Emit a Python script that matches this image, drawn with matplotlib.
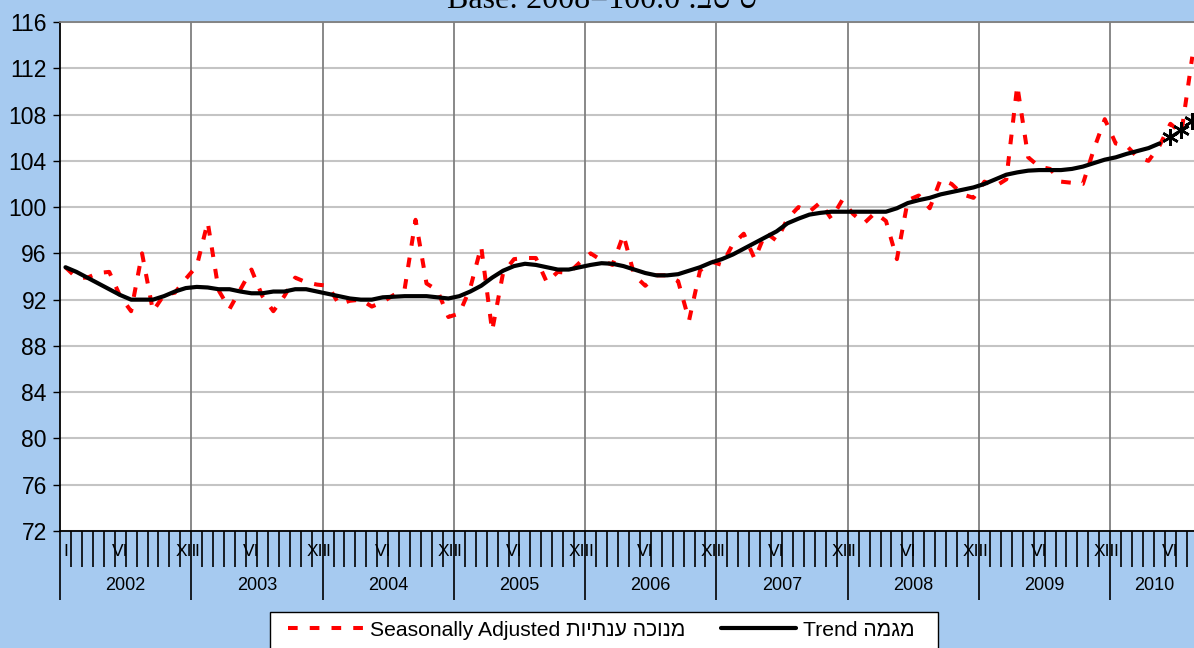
import numpy as np
import matplotlib
matplotlib.use("Agg")
import matplotlib.pyplot as plt
from matplotlib.patches import Rectangle
from matplotlib.transforms import blended_transform_factory

# monthly values, Jan 2002 .. Aug 2010
years = ["2002", "2003", "2004", "2005", "2006", "2007", "2008", "2009", "2010"]
month_marks = {0: "I", 5: "VI", 11: "XII"}

seas_adj = [
    94.8, 93.9, 93.9, 94.3, 94.4, 92.3, 91.0, 96.0, 91.0, 92.4, 92.6, 93.8,   # 2002
    94.9, 98.7, 92.8, 91.2, 92.9, 94.6, 92.3, 91.0, 92.3, 93.9, 93.5, 93.3,   # 2003
    93.2, 91.6, 91.9, 92.0, 91.4, 91.8, 92.4, 92.9, 98.9, 93.4, 92.8, 90.5,   # 2004
    90.8, 93.0, 96.6, 89.3, 94.3, 95.5, 95.6, 95.6, 93.5, 94.4, 94.3, 95.2,   # 2005
    96.0, 95.4, 95.0, 97.6, 94.1, 93.2, 94.1, 94.1, 93.6, 90.2, 94.5, 95.3,   # 2006
    95.0, 96.8, 97.7, 95.5, 97.8, 97.1, 99.0, 100.0, 99.6, 100.4, 99.0, 100.6,  # 2007
    99.4, 98.6, 99.5, 98.8, 95.5, 100.6, 101.0, 99.9, 102.4, 102.0, 101.1, 100.8,  # 2008
    102.2, 101.8, 102.4, 110.5, 104.3, 103.5, 103.3, 102.2, 102.1, 102.0, 105.0, 107.6,  # 2009
    105.5, 105.3, 104.3, 104.0, 105.3, 107.2, 106.4, 113.0,   # 2010
]

trend = [
    94.8, 94.4, 93.9, 93.4, 92.9, 92.4, 92.0, 92.0, 92.0, 92.3, 92.7, 93.0,
    93.1, 93.05, 92.9, 92.9, 92.7, 92.55, 92.55, 92.7, 92.7, 92.9, 92.9, 92.7,
    92.5, 92.3, 92.1, 92.0, 92.0, 92.2, 92.25, 92.3, 92.3, 92.3, 92.2, 92.1,
    92.3, 92.7, 93.2, 93.9, 94.5, 94.9, 95.1, 95.0, 94.8, 94.6, 94.6, 94.8,
    95.0, 95.15, 95.1, 94.9, 94.6, 94.3, 94.1, 94.1, 94.2, 94.5, 94.8, 95.2,
    95.5, 95.9, 96.4, 96.9, 97.4, 97.9, 98.6, 99.0, 99.35, 99.5, 99.6, 99.6,
    99.6, 99.6, 99.6, 99.6, 99.9, 100.35, 100.6, 100.8, 101.1, 101.3, 101.5, 101.7,
    102.0, 102.4, 102.8, 103.0, 103.15, 103.2, 103.2, 103.2, 103.3, 103.5, 103.8, 104.1,
    104.3, 104.6, 104.85, 105.1, 105.5,
]

# trend estimate for the last months (star markers)
trend_est_idx = [101, 102, 103]
trend_est = [106.1, 106.7, 107.4]

# the reference shows the hebrew glyphs left to right, the renderer applies
# bidi, so the hebrew runs are handed over reversed
label_sa = "Seasonally Adjusted " + "מנוכה ענתיות"[::-1]
label_tr = "Trend " + "מגמה"[::-1]
title = "Base: 2008=100.0 :בסיס"

bg = "#a6caf0"
sans = ["Liberation Sans", "DejaVu Sans"]
plt.rcParams["font.family"] = sans

W, H = 1194, 648
fig = plt.figure(figsize=(W / 100, H / 100), dpi=100, facecolor=bg)

n_months = len(seas_adj)
x_sa = np.arange(n_months) + 0.5
x_tr = np.arange(len(trend)) + 0.5
x_est = np.array(trend_est_idx) + 0.5

ax = fig.add_axes([60 / W, 1 - 531 / H, 104 * 10.94 / W, 509 / H])
ax.set_facecolor("white")

sa_line, = ax.plot(x_sa, seas_adj, color="#ff0000", lw=2.9, dashes=(2.4, 3.0),
                   zorder=3)
tr_line, = ax.plot(x_tr, trend, color="black", lw=3, solid_capstyle="round",
                   zorder=4)
ax.plot(x_est, trend_est, color="black", lw=1.5, marker=(6, 2, 0),
        markersize=12, markeredgewidth=1.8, zorder=4)

ax.set_xlim(0, n_months)
ax.set_ylim(72, 116)
ax.set_yticks(np.arange(72, 117, 4))
ax.tick_params(axis="y", direction="out", length=5, width=1, pad=4.5,
               labelsize=16.5)
ax.yaxis.grid(True, color="#c4c4c4", lw=1.5, zorder=0)
ax.set_axisbelow(True)
for k in range(12, n_months, 12):
    ax.axvline(k, color="#7f7f7f", lw=1.3, zorder=1)

# category axis: month ticks and year separators
ax.set_xticks(np.arange(0, n_months, 12))
ax.set_xticks(np.arange(0, n_months + 1), minor=True)
ax.tick_params(axis="x", which="major", direction="out", length=49.5,
               width=1.2, labelbottom=False)
ax.tick_params(axis="x", which="minor", direction="out", length=26,
               width=1.2, labelbottom=False)

for side in ["left", "bottom"]:
    ax.spines[side].set_color("black")
    ax.spines[side].set_linewidth(1.3)
ax.spines["top"].set_color("#7f7f7f")
ax.spines["top"].set_linewidth(1.3)
ax.spines["right"].set_visible(False)

trans = blended_transform_factory(ax.transData, ax.transAxes)
for yi, yr in enumerate(years):
    start = yi * 12
    end = min(start + 12, n_months)
    for m, lab in month_marks.items():
        i = start + m
        if i < n_months:
            ax.text(i + 0.5, -0.0393, lab, transform=trans, ha="center",
                    va="center", fontsize=12.5, clip_on=False)
    ax.text((start + end) / 2, -0.108, yr, transform=trans, ha="center",
            va="center", fontsize=13, clip_on=False)

# title (cut off at the top of the picture, as in the source)
fig.text(602 / W, 1 - 8 / H, title, ha="center", va="baseline", fontsize=23,
         family=["Liberation Serif", "DejaVu Serif", "DejaVu Sans"])

# legend box
fig.patches.append(Rectangle((270 / W, 1 - 665 / H), 668 / W, 53 / H,
                             transform=fig.transFigure, facecolor="white",
                             edgecolor="black", lw=1))
fig.legend([sa_line, tr_line], [label_sa, label_tr], ncol=2, frameon=False,
           loc="center left", bbox_to_anchor=(288 / W, 1 - 630 / H),
           borderpad=0, borderaxespad=0, handlelength=3.55, handletextpad=0.33,
           columnspacing=1.7, fontsize=15.2)

fig.savefig("out.png", dpi=100, facecolor=bg)
